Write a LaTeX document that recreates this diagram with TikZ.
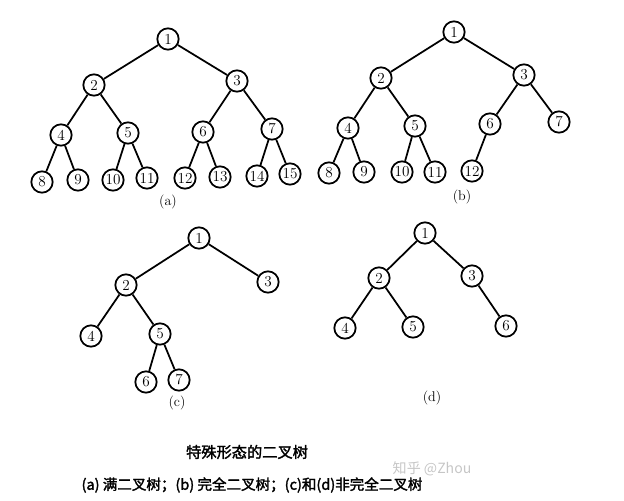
\documentclass[tikz,border=0pt]{standalone}
\usepackage{fontspec}
\usepackage{tikz}
\newfontfamily\cjk[AutoFakeBold=2]{Noto Sans CJK SC}
\tikzstyle{vertex} = [circle, draw=black, line width=1.5pt, minimum size=0.64cm, inner sep=0pt, font=\fontsize{13}{13}\selectfont]
\tikzstyle{edge} = [line width=1.5pt]
\tikzstyle{sublabel} = [font=\fontsize{12}{12}\selectfont]

\begin{document}
\begin{tikzpicture}[x=0.03cm, y=-0.03cm] % one unit = one pixel of the original

\useasboundingbox (0,0) rectangle (624,500);

% (a) full binary tree
\node (a1) [vertex] at (168,39) {1};
\node (a2) [vertex] at (94,85) {2};
\node (a3) [vertex] at (237,81) {3};
\node (a4) [vertex] at (61,135) {4};
\node (a5) [vertex] at (128,133) {5};
\node (a6) [vertex] at (203,132) {6};
\node (a7) [vertex] at (272,129) {7};
\node (a8) [vertex] at (42,182) {8};
\node (a9) [vertex] at (78,180) {9};
\node (a10) [vertex] at (113,180) {10};
\node (a11) [vertex] at (147,178) {11};
\node (a12) [vertex] at (185,178) {12};
\node (a13) [vertex] at (220,177) {13};
\node (a14) [vertex] at (257,176) {14};
\node (a15) [vertex] at (290,174) {15};
\node (alabel) [sublabel] at (168,202) {(a)};

\draw [edge] (a1) -- (a2) (a1) -- (a3)
  (a2) -- (a4) (a2) -- (a5) (a3) -- (a6) (a3) -- (a7)
  (a4) -- (a8) (a4) -- (a9) (a5) -- (a10) (a5) -- (a11)
  (a6) -- (a12) (a6) -- (a13) (a7) -- (a14) (a7) -- (a15);

% (b) complete binary tree
\node (b1) [vertex] at (454,32) {1};
\node (b2) [vertex] at (381,78) {2};
\node (b3) [vertex] at (524,75) {3};
\node (b4) [vertex] at (348,128) {4};
\node (b5) [vertex] at (415,126) {5};
\node (b6) [vertex] at (490,124) {6};
\node (b7) [vertex] at (559,122) {7};
\node (b8) [vertex] at (329,173) {8};
\node (b9) [vertex] at (364,172) {9};
\node (b10) [vertex] at (402,172) {10};
\node (b11) [vertex] at (435,172) {11};
\node (b12) [vertex] at (472,171) {12};
\node (blabel) [sublabel] at (462,197) {(b)};

\draw [edge] (b1) -- (b2) (b1) -- (b3)
  (b2) -- (b4) (b2) -- (b5) (b3) -- (b6) (b3) -- (b7)
  (b4) -- (b8) (b4) -- (b9) (b5) -- (b10) (b5) -- (b11)
  (b6) -- (b12);

% (c)
\node (c1) [vertex] at (199,238) {1};
\node (c2) [vertex] at (126,285) {2};
\node (c3) [vertex] at (268,282) {3};
\node (c4) [vertex] at (91,336) {4};
\node (c5) [vertex] at (160,334) {5};
\node (c6) [vertex] at (146,382) {6};
\node (c7) [vertex] at (179,380) {7};
\node (clabel) [sublabel] at (177,403) {(c)};

\draw [edge] (c1) -- (c2) (c1) -- (c3)
  (c2) -- (c4) (c2) -- (c5) (c5) -- (c6) (c5) -- (c7);

% (d)
\node (d1) [vertex] at (425,233) {1};
\node (d2) [vertex] at (379,278) {2};
\node (d3) [vertex] at (472,276) {3};
\node (d4) [vertex] at (345,328) {4};
\node (d5) [vertex] at (413,327) {5};
\node (d6) [vertex] at (506,326) {6};
\node (dlabel) [sublabel] at (432,398) {(d)};

\draw [edge] (d1) -- (d2) (d1) -- (d3)
  (d2) -- (d4) (d2) -- (d5) (d3) -- (d6);

% captions
\node (title) [font=\cjk\bfseries\fontsize{13}{13}\selectfont] at (247,452) {特殊形态的二叉树};
\node (mark) [font=\cjk\fontsize{12}{12}\selectfont, text=gray!45] at (432,469) {知乎 @Zhou};
\node (legend) [font=\cjk\bfseries\fontsize{12.4}{12.4}\selectfont] at (252,485) {(a) 满二叉树；(b) 完全二叉树；(c)和(d)非完全二叉树};

\end{tikzpicture}
\end{document}
